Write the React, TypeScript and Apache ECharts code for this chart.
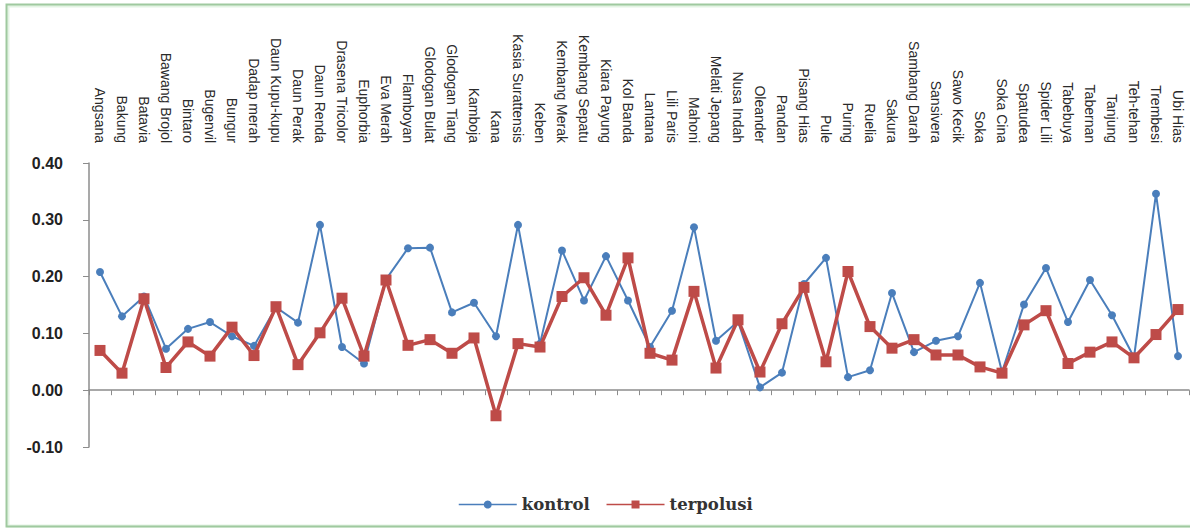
import React, { useEffect, useRef } from "react";
import * as echarts from "echarts";

const categories: string[] = [
  "Angsana", "Bakung", "Batavia", "Bawang Brojol", "Bintaro", "Bugenvil", "Bungur",
  "Dadap merah", "Daun Kupu-kupu", "Daun Perak", "Daun Renda", "Drasena Tricolor",
  "Euphorbia", "Eva Merah", "Flamboyan", "Glodogan Bulat", "Glodogan Tiang", "Kamboja",
  "Kana", "Kasia Surattensis", "Keben", "Kembang Merak", "Kembang Sepatu", "Kiara Payung",
  "Kol Banda", "Lantana", "Lili Paris", "Mahoni", "Melati Jepang", "Nusa Indah", "Oleander",
  "Pandan", "Pisang Hias", "Pule", "Puring", "Ruelia", "Sakura", "Sambang Darah",
  "Sansivera", "Sawo Kecik", "Soka", "Soka Cina", "Spatudea", "Spider Lili", "Tabebuya",
  "Tabernan", "Tanjung", "Teh-tehan", "Trembesi", "Ubi Hias",
];

const kontrol: number[] = [
  0.208, 0.130, 0.165, 0.073, 0.108, 0.120, 0.095, 0.078, 0.146, 0.119,
  0.291, 0.076, 0.047, 0.195, 0.250, 0.251, 0.137, 0.154, 0.095, 0.291,
  0.082, 0.246, 0.158, 0.236, 0.158, 0.076, 0.140, 0.287, 0.087, 0.121,
  0.005, 0.031, 0.187, 0.233, 0.023, 0.035, 0.171, 0.067, 0.087, 0.095,
  0.189, 0.032, 0.151, 0.215, 0.120, 0.194, 0.132, 0.058, 0.346, 0.060,
];

const terpolusi: number[] = [
  0.070, 0.030, 0.161, 0.040, 0.085, 0.060, 0.111, 0.061, 0.147, 0.045,
  0.101, 0.162, 0.060, 0.194, 0.079, 0.089, 0.065, 0.092, -0.045, 0.082,
  0.076, 0.165, 0.198, 0.132, 0.233, 0.065, 0.053, 0.174, 0.039, 0.124,
  0.032, 0.117, 0.181, 0.050, 0.209, 0.112, 0.074, 0.089, 0.062, 0.062,
  0.041, 0.030, 0.115, 0.140, 0.047, 0.067, 0.085, 0.057, 0.098, 0.142,
];

const seriesNames: string[] = ["kontrol", "terpolusi"];

export default function App() {
  const ref = useRef<HTMLDivElement>(null);

  useEffect(() => {
    document.body.style.margin = "0";
    if (!ref.current) return;
    const chart = echarts.init(ref.current, undefined, { renderer: "svg" });
    const axisGray = "#8c8c8c";
    chart.setOption({
      animation: false,
      backgroundColor: "#ffffff",
      graphic: [
        {
          type: "rect",
          shape: { x: 8, y: 6, width: 1200, height: 520 },
          style: { fill: "none", stroke: "#e3f3e3", lineWidth: 3 },
          silent: true,
        },
        {
          type: "rect",
          shape: { x: 6.5, y: 4.5, width: 1200, height: 522 },
          style: { fill: "none", stroke: "#9fc99f", lineWidth: 2 },
          silent: true,
        },
      ],
      grid: { left: 89, right: 1, top: 163, bottom: 84, containLabel: false },
      legend: {
        data: seriesNames,
        left: 453,
        top: 491,
        itemWidth: 58,
        itemHeight: 10,
        itemGap: 16,
        lineStyle: { width: 1.5 },
        textStyle: {
          fontFamily: "DejaVu Serif",
          fontWeight: "bold",
          fontSize: 16.5,
          color: "#333333",
        },
      },
      xAxis: [
        {
          type: "category",
          data: categories,
          position: "top",
          boundaryGap: true,
          axisLine: { show: false, onZero: false },
          axisTick: { show: false },
          axisLabel: {
            rotate: 90,
            interval: 0,
            margin: 20,
            fontFamily: "Liberation Sans, Arial, sans-serif",
            fontSize: 14,
            color: "#2a2a2a",
          },
        },
        {
          type: "category",
          data: categories,
          position: "bottom",
          boundaryGap: true,
          axisLine: { show: true, onZero: true, lineStyle: { color: axisGray, width: 1.5 } },
          axisTick: { show: true, length: 5, interval: 0, lineStyle: { color: axisGray } },
          axisLabel: { show: false },
        },
      ],
      yAxis: {
        type: "value",
        min: -0.1,
        max: 0.4,
        interval: 0.1,
        splitLine: { show: false },
        axisLine: { show: true, lineStyle: { color: axisGray, width: 1.5 } },
        axisTick: { show: true, length: 6, lineStyle: { color: axisGray } },
        axisLabel: {
          margin: 26,
          fontFamily: "Liberation Sans, Arial, sans-serif",
          fontWeight: "bold",
          fontSize: 16,
          color: "#222222",
          formatter: (v: number) => v.toFixed(2),
        },
      },
      series: [
        {
          name: seriesNames[0],
          type: "line",
          xAxisIndex: 0,
          data: kontrol,
          symbol: "circle",
          symbolSize: 8,
          lineStyle: { color: "#4a7ebb", width: 2 },
          itemStyle: { color: "#4a7ebb" },
          z: 2,
        },
        {
          name: seriesNames[1],
          type: "line",
          xAxisIndex: 0,
          data: terpolusi,
          symbol: "rect",
          symbolSize: 11,
          lineStyle: { color: "#be4b48", width: 3.5 },
          itemStyle: { color: "#be4b48" },
          z: 3,
        },
      ],
    });
    return () => chart.dispose();
  }, []);

  return (
    <div
      ref={ref}
      style={{ position: "absolute", left: 0, top: 0, width: 1190, height: 531 }}
    />
  );
}
